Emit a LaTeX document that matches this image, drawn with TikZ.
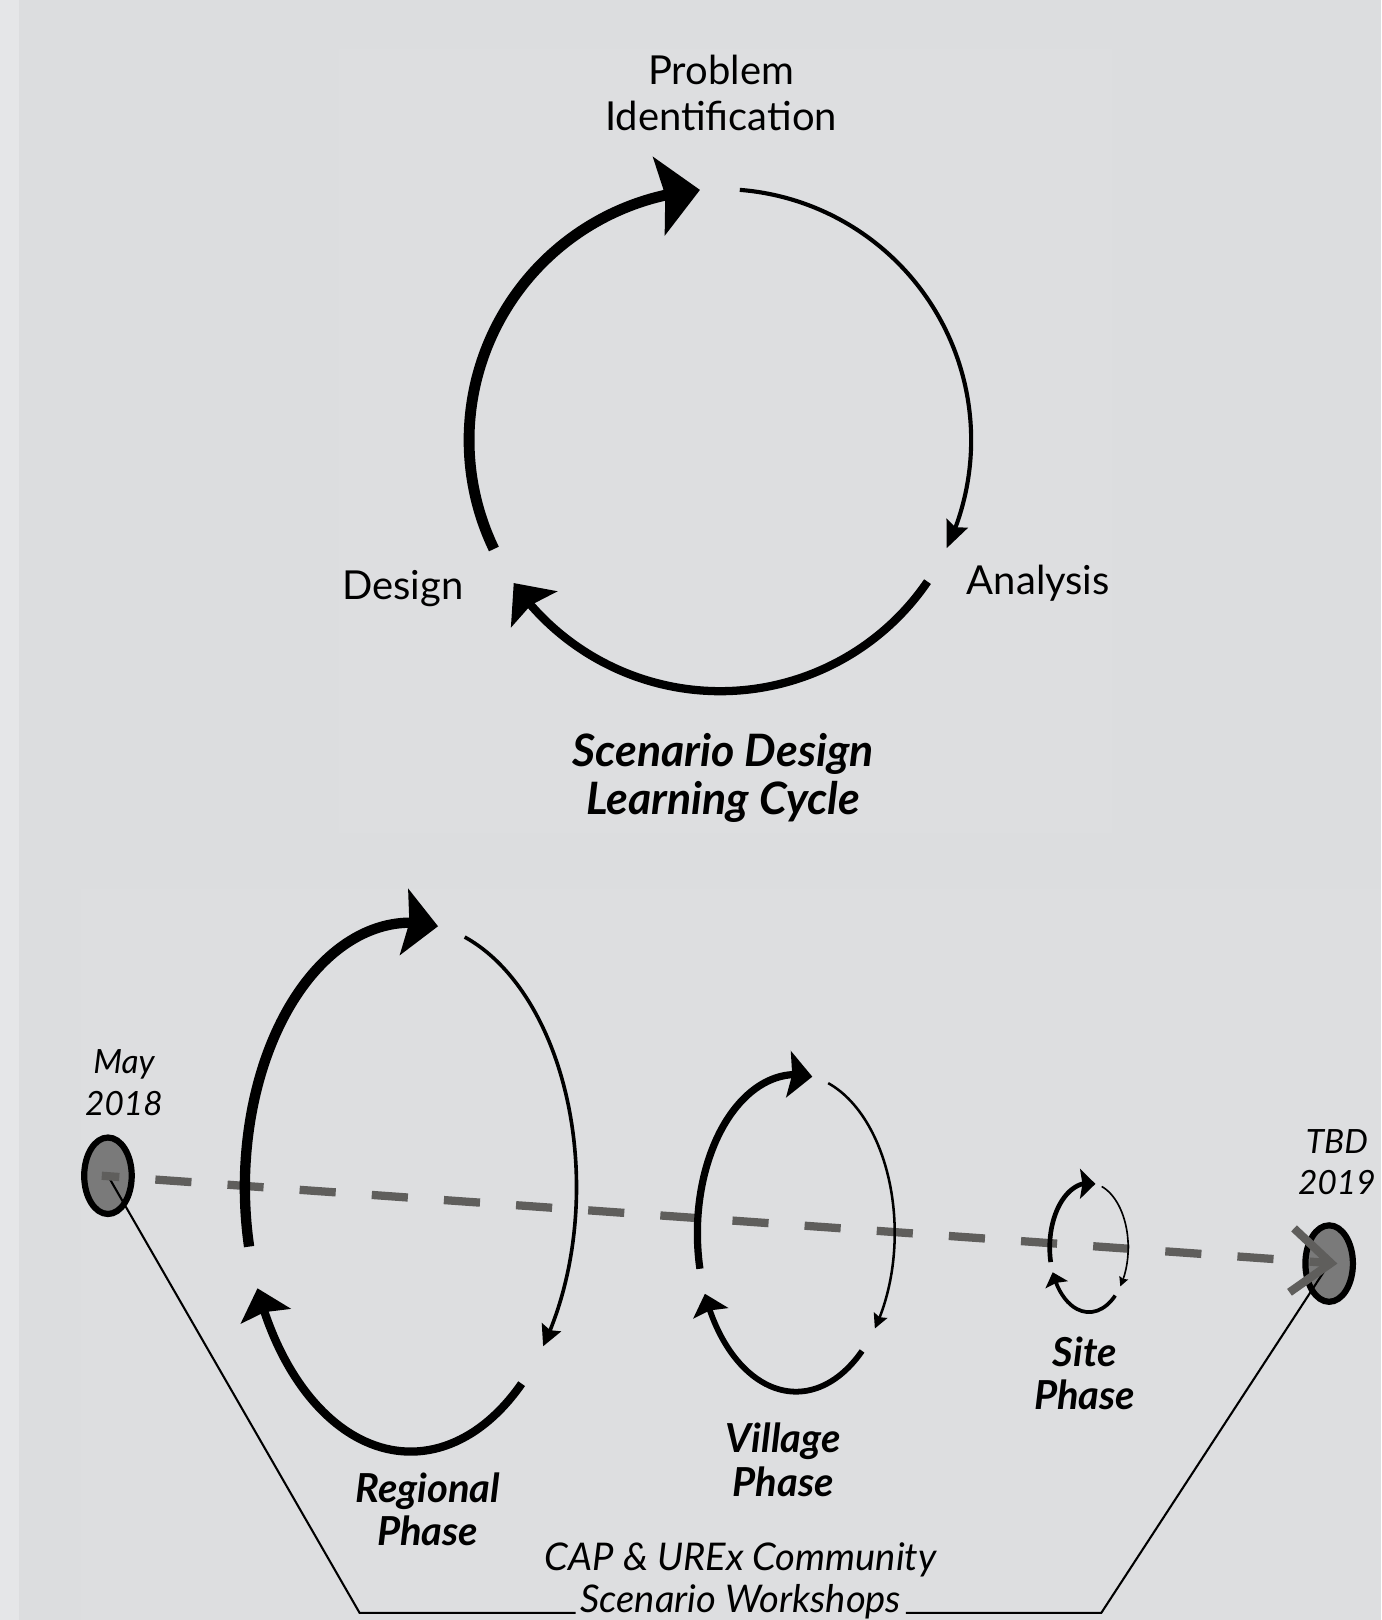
\documentclass[tikz,border=0pt]{standalone}
\usepackage{fontspec}
\setmainfont{Lato}
\usetikzlibrary{arrows.meta,bending,shapes.geometric}

\definecolor{bgpaper}{HTML}{DCDDDF}
\definecolor{bgstrip}{HTML}{E5E6E8}
\definecolor{bgpanel}{HTML}{DDDEE0}
\definecolor{dashgrey}{HTML}{5F5E5C}
\definecolor{dotgrey}{HTML}{7A7A7A}

\begin{document}
\begin{tikzpicture}[x=0.1mm,y=-0.1mm,
  stage/.style={font=\fontsize{11}{12.8}\selectfont,align=center},
  cycle title/.style={font=\fontsize{12.3}{13.1}\selectfont\bfseries\itshape,align=center},
  phase name/.style={font=\fontsize{11}{11.9}\selectfont\bfseries\itshape,align=center},
  date/.style={font=\fontsize{9.2}{11.4}\selectfont\itshape,align=center},
  workshop/.style={font=\fontsize{10.5}{11.4}\selectfont\itshape,align=center},
  date node/.style={ellipse,draw,line width=0.6mm,fill=dotgrey,minimum width=4.6mm,minimum height=7.4mm,inner sep=0pt},
  link/.style={line width=0.2mm},
  timeline/.style={draw=dashgrey,line width=0.8mm,dash pattern=on 3.5mm off 3.5mm,dash phase=1.8mm}]

  \fill[bgpaper] (0,0) rectangle (1337,1568);
  \fill[bgstrip] (0,0) rectangle (18,1568);
  \fill[bgpanel] (328,47) rectangle (1076,806);
  \fill[bgpanel] (78,860) rectangle (1337,1568);
  \useasboundingbox (0,0) rectangle (1337,1568);

  % learning cycle
  \node[stage] (problem) at (698,90) {Problem\\Identification};
  \node[stage] (design) at (390,570) {Design};
  \node[stage] (analysis) at (1005,564) {Analysis};
  \node[cycle title] (title) at (700,753) {Scenario Design\\Learning Cycle};

  \coordinate (hub) at (697,426);
  \draw[line width=0.4mm,-{Stealth[length=2.6mm,width=2.2mm,inset=0.4mm]}]
    ([shift={(-85.5:243)}]hub) arc[start angle=-85.5,end angle=25.5,radius=243];
  \draw[line width=0.8mm,-{Stealth[length=3.2mm,width=5.6mm,inset=0.5mm]}]
    ([shift={(34.3:243)}]hub) arc[start angle=34.3,end angle=145.3,radius=243];
  \draw[line width=1.05mm,-{Stealth[length=4mm,width=7.6mm,inset=0.6mm]}]
    ([shift={(154.3:243)}]hub) arc[start angle=154.3,end angle=265.4,radius=243];

  % timeline
  \node[date node] (may) at (104.5,1138) {};
  \node[date node] (tbd) at (1286.5,1223) {};
  \node[date] (maylabel) at (120,1048) {May\\2018};
  \node[date] (tbdlabel) at (1294,1125) {TBD\\2019};

  \node[phase name] (regional) at (414,1461) {Regional\\Phase};
  \node[phase name] (village) at (758,1413) {Village\\Phase};
  \node[phase name] (site) at (1050,1329) {Site\\Phase};

  \node[workshop] (cap) at (717,1510) {CAP \& UREx Community};
  \node[workshop,inner xsep=0.4mm] (ws) at (717,1550) {Scenario Workshops};

  \coordinate (wsleft) at (348,1561);
  \coordinate (wsright) at (1066,1561);
  \draw[link] (may.center) -- (wsleft) -- (ws.west |- wsleft);
  \draw[link] (ws.east |- wsright) -- (wsright) -- (tbd.center);

  \draw[timeline,-{Straight Barb[length=3.8mm,width=6.2mm]}]
    ([xshift=-0.6mm]may.center) -- ([xshift=0.8mm]tbd.center);

  % phase cycles
  \foreach \cx/\cy/\rx/\ry/\s [count=\i] in
    {397.5/1149/160.5/256/1, 770.5/1193.5/95.5/153.5/0.7, 1054/1207.5/38/62.5/0.45}{
    \coordinate (hub\i) at (\cx,\cy);
    \draw[line width=\s mm,-{Stealth[length=3.3mm,width=6.4mm,inset=0.5mm,scale=\s]}]
      ([shift={({\rx*cos(167)},{\ry*sin(167)})}]hub\i)
      arc[start angle=167,end angle=279.5,x radius=\rx,y radius=\ry];
    \draw[line width=0.35*\s mm,-{Stealth[length=2mm,width=2mm,inset=0.3mm,scale=\s]}]
      ([shift={({\rx*cos(-71)},{\ry*sin(-71)})}]hub\i)
      arc[start angle=-71,end angle=37,x radius=\rx,y radius=\ry];
    \draw[line width=0.8*\s mm,-{Stealth[length=2.8mm,width=5mm,inset=0.4mm,scale=\s]}]
      ([shift={({\rx*cos(48)},{\ry*sin(48)})}]hub\i)
      arc[start angle=48,end angle=157.5,x radius=\rx,y radius=\ry];
  }
\end{tikzpicture}
\end{document}
